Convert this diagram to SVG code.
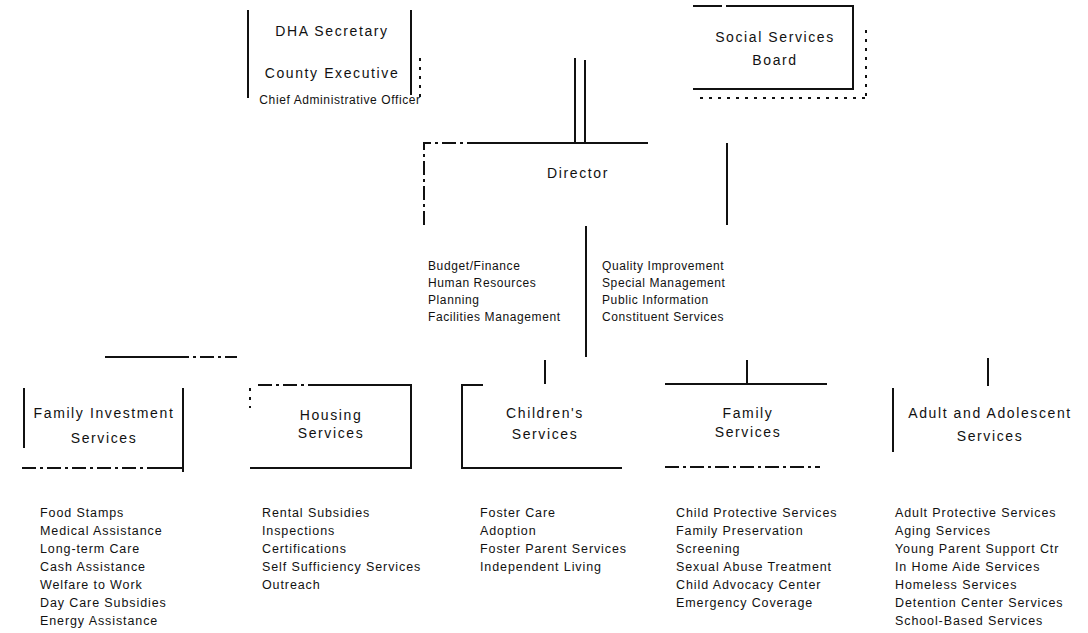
<svg xmlns="http://www.w3.org/2000/svg" width="1088" height="633" viewBox="0 0 1088 633">
<style>
.ln{stroke:#111;stroke-width:2;fill:none}
.ds{stroke:#111;stroke-width:2;fill:none;stroke-dasharray:14 4 3 4}
.dt{stroke:#111;stroke-width:2;fill:none;stroke-dasharray:3 6}
.t{font-family:"Liberation Sans",Arial,sans-serif;font-size:14px;letter-spacing:1.6px;fill:#111;text-anchor:middle}
.l{font-family:"Liberation Sans",Arial,sans-serif;font-size:12.5px;letter-spacing:0.9px;fill:#111}
.n{font-family:"Liberation Sans",Arial,sans-serif;font-size:12px;letter-spacing:0.6px;fill:#111}
</style>
<rect width="1088" height="633" fill="#fff"/>
<g id="dha">
<path class="ln" d="M248 10V98M411 10V95"/>
<path class="dt" d="M420 58V100"/>
<text class="t" x="332" y="36">DHA Secretary</text>
<text class="t" x="332" y="78">County Executive</text>
<text class="n" x="340" y="104" text-anchor="middle" letter-spacing="0.3">Chief Administrative Officer</text>
</g>
<g id="board">
<path class="ln" d="M693 6H722M726 6H853V89H693"/>
<path class="dt" d="M866 30V98M700 98H866"/>
<text class="t" x="775" y="42">Social Services</text>
<text class="t" x="775" y="65">Board</text>
</g>
<g id="director">
<path class="ds" d="M424 225V143H470"/>
<path class="ln" d="M470 143H648"/>
<path class="ln" d="M727 143V225"/>
<text class="t" x="578" y="178">Director</text>
<text class="n" x="428" y="270">Budget/Finance</text>
<text class="n" x="428" y="287">Human Resources</text>
<text class="n" x="428" y="304">Planning</text>
<text class="n" x="428" y="321">Facilities Management</text>
<text class="n" x="602" y="270">Quality Improvement</text>
<text class="n" x="602" y="287">Special Management</text>
<text class="n" x="602" y="304">Public Information</text>
<text class="n" x="602" y="321">Constituent Services</text>
</g>
<g id="fis">
<path class="ln" d="M24 388V448M183 388V472"/>
<path class="ds" d="M22 468H155"/>
<path class="ln" d="M155 468H183"/>
<text class="t" x="104" y="418">Family Investment</text>
<text class="t" x="104" y="443">Services</text>
<text class="l" x="40" y="517">Food Stamps</text>
<text class="l" x="40" y="535">Medical Assistance</text>
<text class="l" x="40" y="553">Long-term Care</text>
<text class="l" x="40" y="571">Cash Assistance</text>
<text class="l" x="40" y="589">Welfare to Work</text>
<text class="l" x="40" y="607">Day Care Subsidies</text>
<text class="l" x="40" y="625">Energy Assistance</text>
</g>
<g id="housing">
<path class="ds" d="M258 385H320"/>
<path class="ln" d="M320 385H411V468H250"/>
<path class="dt" d="M250 388V408"/>
<text class="t" x="331" y="420">Housing</text>
<text class="t" x="331" y="438">Services</text>
<text class="l" x="262" y="517">Rental Subsidies</text>
<text class="l" x="262" y="535">Inspections</text>
<text class="l" x="262" y="553">Certifications</text>
<text class="l" x="262" y="571">Self Sufficiency Services</text>
<text class="l" x="262" y="589">Outreach</text>
</g>
<g id="children">
<path class="ln" d="M483 385H462V468H622"/>
<text class="t" x="545" y="418">Children's</text>
<text class="t" x="545" y="439">Services</text>
<text class="l" x="480" y="517">Foster Care</text>
<text class="l" x="480" y="535">Adoption</text>
<text class="l" x="480" y="553">Foster Parent Services</text>
<text class="l" x="480" y="571">Independent Living</text>
</g>
<g id="family">
<path class="ln" d="M665 384H827"/>
<path class="ds" d="M665 467H820"/>
<text class="t" x="748" y="418">Family</text>
<text class="t" x="748" y="437">Services</text>
<text class="l" x="676" y="517">Child Protective Services</text>
<text class="l" x="676" y="535">Family Preservation</text>
<text class="l" x="676" y="553">Screening</text>
<text class="l" x="676" y="571">Sexual Abuse Treatment</text>
<text class="l" x="676" y="589">Child Advocacy Center</text>
<text class="l" x="676" y="607">Emergency Coverage</text>
</g>
<g id="adult">
<path class="ln" d="M893 388V452"/>
<text class="t" x="990" y="418">Adult and Adolescent</text>
<text class="t" x="990" y="441">Services</text>
<text class="l" x="895" y="517" letter-spacing="1.1">Adult Protective Services</text>
<text class="l" x="895" y="535" letter-spacing="1.1">Aging Services</text>
<text class="l" x="895" y="553" letter-spacing="1.1">Young Parent Support Ctr</text>
<text class="l" x="895" y="571" letter-spacing="1.1">In Home Aide Services</text>
<text class="l" x="895" y="589" letter-spacing="1.1">Homeless Services</text>
<text class="l" x="895" y="607" letter-spacing="1.1">Detention Center Services</text>
<text class="l" x="895" y="625" letter-spacing="1.1">School-Based Services</text>
</g>
<g id="connectors">
<path class="ln" d="M575 58V143M585 60V143"/>
<path class="ln" d="M586 226V357"/>
<path class="ln" d="M105 357H175"/>
<path class="ds" d="M175 357H237"/>
<path class="ln" d="M545 360V384"/>
<path class="ln" d="M747 360V384"/>
<path class="ln" d="M988 358V386"/>
</g>
</svg>
